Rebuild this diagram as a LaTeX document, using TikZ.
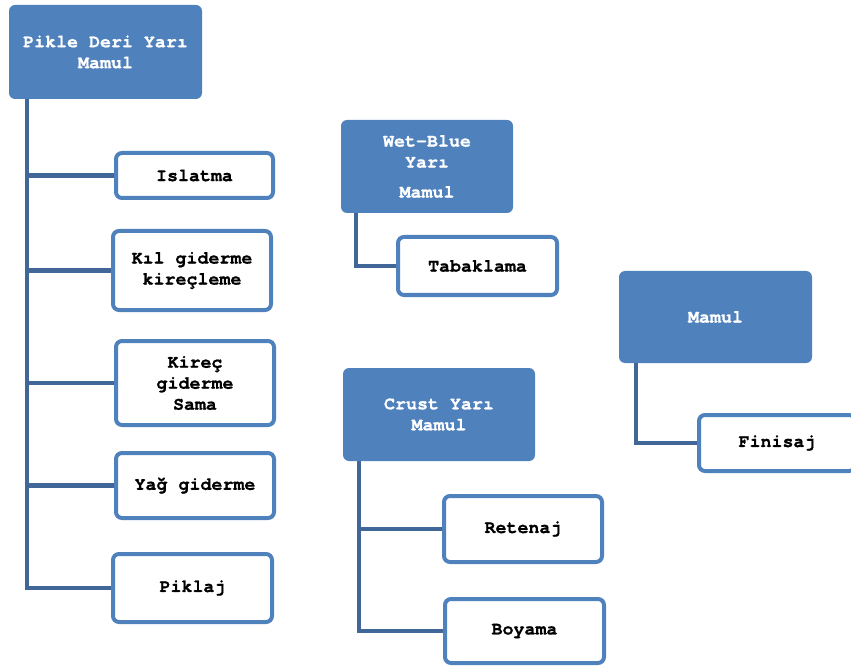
\documentclass[tikz,border=0pt]{standalone}
\usepackage{fontspec}
\newfontfamily\cour{TeX Gyre Cursor}[BoldFeatures={FakeBold=0.8}]
\definecolor{boxblue}{HTML}{4F81BD}
\definecolor{linkblue}{RGB}{65,103,152}
\begin{document}
\begin{tikzpicture}[x=1pt,y=-1pt,
  parentbox/.style={fill=boxblue, rounded corners=6pt, text=white, align=center,
    font=\cour\bfseries\fontsize{18.3}{21}\selectfont, inner sep=0pt},
  childbox/.style={draw=boxblue, line width=4pt, fill=white, rounded corners=6pt,
    text=black, align=center, font=\cour\bfseries\fontsize{18.3}{21}\selectfont, inner sep=0pt},
  conn/.style={draw=linkblue, line width=4.5pt}]
\useasboundingbox (0,0) rectangle (851,668);
\clip (0,0) rectangle (851,668);

% group heads
\node[parentbox, minimum width=193pt, minimum height=94pt] (pikle) at (105.5,52) {Pikle Deri Yarı\\Mamul};
\node[parentbox, minimum width=172pt, minimum height=93pt] (wet) at (427,166.5) {Wet-Blue\\Yarı\\[9pt]Mamul};
\node[parentbox, minimum width=192pt, minimum height=93pt] (crust) at (439,414.5) {Crust Yarı\\Mamul};
\node[parentbox, minimum width=193pt, minimum height=92pt] (mamul) at (715.5,317) {Mamul};

% process steps
\node[childbox, minimum width=157pt, minimum height=45pt] (isl) at (194.5,175.5) {Islatma};
\node[childbox, minimum width=158pt, minimum height=79pt] (kil) at (192,270.5) {Kıl giderme\\kireçleme};
\node[childbox, minimum width=158pt, minimum height=84pt] (kir) at (195,383) {Kireç\\giderme\\Sama};
\node[childbox, minimum width=158pt, minimum height=65pt] (yag) at (195,485.5) {Yağ giderme};
\node[childbox, minimum width=159pt, minimum height=68pt] (pik) at (192.5,588) {Piklaj};
\node[childbox, minimum width=159pt, minimum height=58pt] (tab) at (477.5,266) {Tabaklama};
\node[childbox, minimum width=158pt, minimum height=66pt] (ret) at (523,529) {Retenaj};
\node[childbox, minimum width=159pt, minimum height=64pt] (boy) at (524.5,631) {Boyama};
\node[childbox, minimum width=156pt, minimum height=56pt] (fin) at (777,443) {Finisaj};

% tree spines
\coordinate (s1) at (27,99);
\coordinate (s2) at (356,213);
\coordinate (s3) at (359,461);
\coordinate (s4) at (636,363);

\draw[conn] (s1) |- (pik.west);
\draw[conn] (s1 |- isl.west) -- (isl.west);
\draw[conn] (s1 |- kil.west) -- (kil.west);
\draw[conn] (s1 |- kir.west) -- (kir.west);
\draw[conn] (s1 |- yag.west) -- (yag.west);
\draw[conn] (s2) |- (tab.west);
\draw[conn] (s3) |- (boy.west);
\draw[conn] (s3 |- ret.west) -- (ret.west);
\draw[conn] (s4) |- (fin.west);
\end{tikzpicture}
\end{document}
